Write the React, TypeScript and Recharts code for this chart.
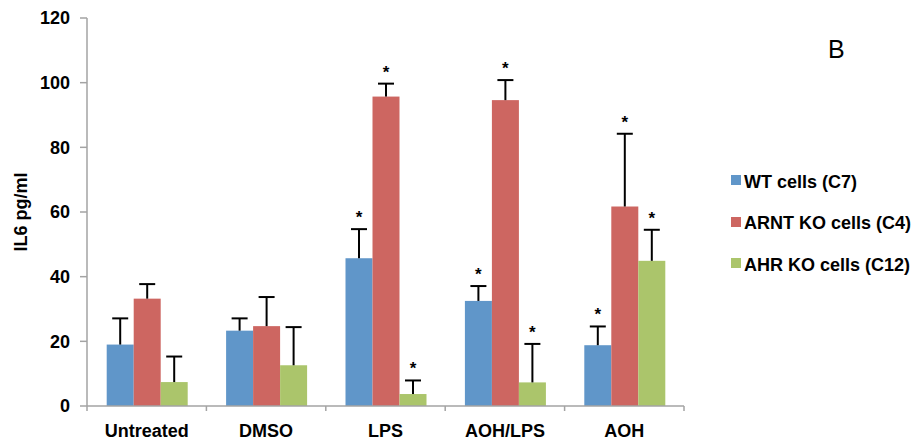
import * as React from "react";
import { BarChart, Bar, XAxis, YAxis, Legend, Label } from "recharts";

const categories = ["Untreated", "DMSO", "LPS", "AOH/LPS", "AOH"];
const wtValues = [19.0, 23.3, 45.7, 32.5, 18.8];
const wtErrors = [8.1, 3.8, 9.0, 4.6, 5.8];
const wtStars = [false, false, true, true, true];
const arntValues = [33.2, 24.7, 95.7, 94.6, 61.7];
const arntErrors = [4.5, 9.0, 4.0, 6.2, 22.5];
const arntStars = [false, false, true, true, true];
const ahrValues = [7.4, 12.6, 3.7, 7.3, 44.9];
const ahrErrors = [7.9, 11.8, 4.2, 11.9, 9.6];
const ahrStars = [false, false, true, true, true];
const yTicks = [0, 20, 40, 60, 80, 100, 120];
const seriesOrder = ["wt", "arnt", "ahr"];

const data = categories.map((name, i) => ({
    name,
    wt: wtValues[i], wtErr: wtErrors[i], wtSig: wtStars[i],
    arnt: arntValues[i], arntErr: arntErrors[i], arntSig: arntStars[i],
    ahr: ahrValues[i], ahrErr: ahrErrors[i], ahrSig: ahrStars[i],
}));

const font = "'Liberation Sans', Arial, sans-serif";
const axisGray = "#a3a3a3";

// bar rect plus one-sided (upward) error bar and optional significance star
const barWithError = (key: string) => (props: any) => {
    const { x, y, width, height, fill, payload } = props;
    const v = payload[key];
    const pxPerUnit = v ? height / v : 0;
    const err = payload[key + "Err"];
    const cx = x + width / 2;
    const top = y - err * pxPerUnit;
    return (
        <g>
            <rect x={x} y={y} width={width} height={height} fill={fill} />
            <line x1={cx} x2={cx} y1={y} y2={top} stroke="#000" strokeWidth={2} />
            <line x1={cx - 8} x2={cx + 8} y1={top} y2={top} stroke="#000" strokeWidth={2} />
            {payload[key + "Sig"] && (
                <text x={cx} y={top - 6} textAnchor="middle" fontSize={17} fontWeight="bold"
                      fontFamily={font} fill="#000">*</text>
            )}
        </g>
    );
};

const CategoryTick = (props: any) => {
    const { x, y, payload, index, visibleTicksCount } = props;
    const half = payload && payload.offset ? payload.offset : 0;
    return (
        <g>
            <line x1={x - half} x2={x - half} y1={y - 5} y2={y} stroke={axisGray} strokeWidth={1.5} />
            {index === visibleTicksCount - 1 && (
                <line x1={x + half} x2={x + half} y1={y - 5} y2={y} stroke={axisGray} strokeWidth={1.5} />
            )}
            <text x={x} y={y + 26} textAnchor="middle" fontSize={18} fontWeight="bold"
                  fontFamily={font} fill="#000">{payload.value}</text>
        </g>
    );
};

const renderLegend = (props: any) => {
    const items = [...(props.payload || [])].sort(
        (a: any, b: any) => seriesOrder.indexOf(a.dataKey) - seriesOrder.indexOf(b.dataKey));
    return (
        <div style={{ position: "relative", width: 0, height: 0, fontFamily: font, color: "#000" }}>
            <div style={{ position: "absolute", left: 828, top: 37, fontSize: 25, lineHeight: "25px" }}>B</div>
            {items.map((entry: any, i: number) => (
                <div key={entry.value}
                     style={{ position: "absolute", left: 731, top: 172.6 + i * 41.7, height: 18, whiteSpace: "nowrap" }}>
                    <span style={{ position: "absolute", left: 0, top: 2.4, width: 10, height: 10, background: entry.color }} />
                    <span style={{ position: "absolute", left: 13, top: 0, fontSize: 18, lineHeight: "18px", fontWeight: "bold" }}>
                        {entry.value}
                    </span>
                </div>
            ))}
        </div>
    );
};

export default function App() {
    return (
        <div style={{ position: "absolute", left: 0, top: 0, background: "#fff" }}>
            <BarChart width={919} height={440} data={data}
                      margin={{ top: 18, right: 235, left: 0, bottom: 0 }}
                      barCategoryGap="16.5%" barGap={0}>
                <XAxis dataKey="name" height={34} tickSize={5} tickMargin={0} tickLine={false}
                       axisLine={{ stroke: axisGray, strokeWidth: 1.5 }} tick={<CategoryTick />} interval={0} />
                <YAxis width={87} domain={[0, 120]} ticks={yTicks} tickSize={7} tickMargin={10}
                       axisLine={{ stroke: axisGray, strokeWidth: 1.5 }}
                       tickLine={{ stroke: axisGray, strokeWidth: 1.5 }}
                       tick={{ fontSize: 18, fontWeight: "bold", fill: "#000", fontFamily: font }}>
                    <Label content={(p: any) => {
                        const vb = p.viewBox || { x: 0, y: 18, width: 87, height: 388 };
                        const lx = vb.x + 27;
                        const ly = vb.y + vb.height / 2;
                        return (
                            <text x={lx} y={ly} transform={`rotate(-90 ${lx} ${ly})`} textAnchor="middle"
                                  fontSize={18} fontWeight="bold" fontFamily={font} fill="#000">IL6 pg/ml</text>
                        );
                    }} />
                </YAxis>
                <Legend layout="vertical" align="right" verticalAlign="top" content={renderLegend}
                        itemSorter={(item: any) => seriesOrder.indexOf(item.dataKey)}
                        wrapperStyle={{ left: 0, top: 0, width: 0, height: 0, overflow: "visible", pointerEvents: "none" }} />
                <Bar dataKey="wt" name="WT cells (C7)" fill="#6096c9" shape={barWithError("wt")} isAnimationActive={false} />
                <Bar dataKey="arnt" name="ARNT KO cells (C4)" fill="#cd6661" shape={barWithError("arnt")} isAnimationActive={false} />
                <Bar dataKey="ahr" name="AHR KO cells (C12)" fill="#abc56b" shape={barWithError("ahr")} isAnimationActive={false} />
            </BarChart>
        </div>
    );
}
